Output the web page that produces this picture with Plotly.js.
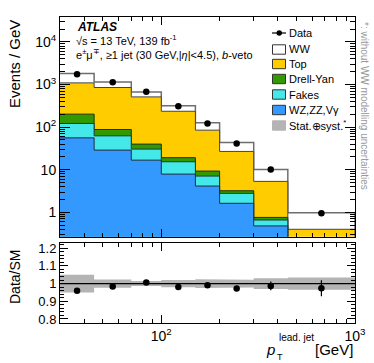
<!DOCTYPE html>
<html>
<head>
<meta charset="utf-8">
<script src="https://cdn.plot.ly/plotly-3.0.1.min.js"></script>
<style>
  html, body { margin: 0; padding: 0; background: #fff; }
  #chart { width: 374px; height: 363px; }
</style>
</head>
<body>
<div id="chart"></div>
<script>
// -------- DATA --------
const binEdges   = [30, 45, 70, 100, 150, 200, 300, 450, 1000];   // GeV
const wzZzVgamma = [56, 28.9, 16.8, 7.9, 4.14, 1.63, 0.48, 0.12]; // Events / GeV
const fakes      = [66, 33.6, 13.7, 7.5, 2.96, 1.16, 0.18, 0.06];
const drellYan   = [80, 25.5, 9.5, 3.8, 2.2, 0.42, 0.10, 0.02];
const topQuark   = [892, 765, 473, 217, 75.7, 23.7, 4.57, 0.20];
const wwSignal   = [716, 300, 160, 80, 41, 16.9, 4.87, 0.58];
const dataVals   = [1740, 1130, 675, 311, 122, 41.5, 10.1, 0.95];
const ratioVals  = [0.959, 0.983, 1.006, 0.981, 0.990, 0.972, 0.987, 0.974];
const ratioErr   = [0.004, 0.005, 0.006, 0.007, 0.010, 0.012, 0.025, 0.045];
const bandHalf   = [0.050, 0.023, 0.014, 0.020, 0.025, 0.022, 0.030, 0.035];

// -------- HELPERS --------
const nBins = binEdges.length - 1;
const centers = binEdges.slice(0, -1).map((e, i) => Math.sqrt(e * binEdges[i + 1]));

// step outline of a histogram
function steps(vals) {
  const x = [], y = [];
  for (let i = 0; i < nBins; i++) {
    x.push(binEdges[i], binEdges[i + 1]);
    y.push(vals[i], vals[i]);
  }
  return { x, y };
}

// closed polygon from histogram top down to a floor far below the axis
function histPolygon(vals, floor) {
  const s = steps(vals);
  return {
    x: s.x.concat([binEdges[nBins], binEdges[0]]),
    y: s.y.concat([floor, floor])
  };
}

// cumulative stack, bottom to top
const layers = [
  { name: 'WZ,ZZ,Vγ', vals: wzZzVgamma, color: '#3399ff', line: '#1f2a44' },
  { name: 'Fakes',    vals: fakes,      color: '#44e8e8', line: '#1f3a3a' },
  { name: 'Drell-Yan',vals: drellYan,   color: '#339900', line: '#1c3300' },
  { name: 'Top',      vals: topQuark,   color: '#ffcc00', line: '#444444' },
  { name: 'WW',       vals: wwSignal,   color: '#ffffff', line: '#6e6e6e' }
];
let running = new Array(nBins).fill(0);
layers.forEach(l => {
  running = running.map((r, i) => r + l.vals[i]);
  l.cum = running.slice();
});

// -------- TRACES --------
const traces = [];
// draw largest (top of stack) first so lower layers sit in front
layers.slice().reverse().forEach(l => {
  const p = histPolygon(l.cum, 1e-3);
  traces.push({
    x: p.x, y: p.y, xaxis: 'x', yaxis: 'y',
    type: 'scatter', mode: 'lines', fill: 'toself',
    fillcolor: l.color,
    line: { color: l.line, width: l.name === 'WW' ? 1.5 : 1 },
    hoverinfo: 'skip', showlegend: false
  });
});

// data points
traces.push({
  x: centers, y: dataVals, xaxis: 'x', yaxis: 'y',
  type: 'scatter', mode: 'markers',
  marker: { color: '#000', size: 6.5 },
  showlegend: false
});

// ratio uncertainty band
const up = steps(bandHalf.map(h => 1 + h));
const dn = steps(bandHalf.map(h => 1 - h));
traces.push({
  x: up.x.concat(dn.x.slice().reverse()),
  y: up.y.concat(dn.y.slice().reverse()),
  xaxis: 'x2', yaxis: 'y2',
  type: 'scatter', mode: 'lines', fill: 'toself',
  fillcolor: '#b4b4b4', line: { width: 0 },
  hoverinfo: 'skip', showlegend: false
});

// unity line
traces.push({
  x: [binEdges[0], binEdges[nBins]], y: [1, 1], xaxis: 'x2', yaxis: 'y2',
  type: 'scatter', mode: 'lines',
  line: { color: '#000', width: 1.2 }, showlegend: false
});

// ratio points
traces.push({
  x: centers, y: ratioVals, xaxis: 'x2', yaxis: 'y2',
  type: 'scatter', mode: 'markers',
  marker: { color: '#000', size: 6.5 },
  error_y: { type: 'data', array: ratioErr, color: '#000', thickness: 1.2, width: 0 },
  showlegend: false
});

// -------- TICKS --------
function logMinor(lo, hi) {
  const out = [];
  for (let d = lo; d <= hi; d++) {
    for (let m = 2; m <= 9; m++) out.push(m * Math.pow(10, d));
  }
  return out;
}
const xMinor = logMinor(1, 2);
const yMinor = logMinor(-1, 4);

const font = 'Liberation Sans, Arial, Helvetica, sans-serif';

const axisBase = {
  showline: true, linecolor: '#000', linewidth: 1, mirror: 'allticks',
  ticks: 'inside', tickcolor: '#000', tickwidth: 1,
  showgrid: false, zeroline: false,
  tickfont: { family: font, size: 14, color: '#000' }
};

// -------- GEOMETRY (pixels -> paper) --------
const W = 374, H = 363;
const M = { l: 60, r: 19, t: 17, b: 40 };
const fx = px => (px - M.l) / (W - M.l - M.r);
const fy = py => (H - M.b - py) / (H - M.t - M.b);

// -------- LEGEND (drawn by hand, ROOT style) --------
const legendRows = [
  { label: 'Data',      y: 33 },
  { label: 'WW',        y: 49.5, fill: '#ffffff', line: '#333' },
  { label: 'Top',       y: 64,   fill: '#ffcc00', line: '#333' },
  { label: 'Drell-Yan', y: 79,   fill: '#339900', line: '#333' },
  { label: 'Fakes',     y: 94.5, fill: '#44e8e8', line: '#333' },
  { label: 'WZ,ZZ,Vγ',  y: 110,  fill: '#3399ff', line: '#333' },
  { label: 'Stat.⊕syst.<sup>*</sup>', y: 125.5, fill: '#b4b4b4', line: '#b4b4b4' }
];
const shapes = [];
const annotations = [];
legendRows.forEach(r => {
  if (r.fill) {
    shapes.push({
      type: 'rect', xref: 'paper', yref: 'paper',
      x0: fx(272.5), x1: fx(285.5), y0: fy(r.y + 4.7), y1: fy(r.y - 4.7),
      fillcolor: r.fill, line: { color: r.line, width: 1 }
    });
  } else {
    shapes.push({
      type: 'line', xref: 'paper', yref: 'paper',
      x0: fx(272), x1: fx(286), y0: fy(r.y), y1: fy(r.y),
      line: { color: '#000', width: 1.2 }
    });
    shapes.push({
      type: 'circle', xref: 'paper', yref: 'paper',
      x0: fx(276.5), x1: fx(282), y0: fy(r.y + 2.75), y1: fy(r.y - 2.75),
      fillcolor: '#000', line: { color: '#000', width: 0 }
    });
  }
  annotations.push({
    xref: 'paper', yref: 'paper', x: fx(287), y: fy(r.y),
    xanchor: 'left', yanchor: 'middle', showarrow: false,
    text: r.label, font: { family: font, size: 11, color: '#000' }
  });
});

// -------- LABELS --------
function label(text, x, y, opts) {
  annotations.push(Object.assign({
    xref: 'paper', yref: 'paper', x: fx(x), y: fy(y),
    xanchor: 'left', yanchor: 'middle', showarrow: false,
    text: text, font: { family: font, size: 11, color: '#000' }
  }, opts || {}));
}
label('<b><i>ATLAS</i></b>', 75, 26.5, { font: { family: font, size: 12, color: '#000' } });
label('√s = 13 TeV, 139 fb<sup>-1</sup>', 75, 40, { borderpad: 0 });
label('e<sup>±</sup>μ<sup>∓</sup>, ≥1 jet (30 GeV,|<i>η</i>|&lt;4.5), <i>b</i>-veto', 75, 54, { borderpad: 0 });

// side note
label('*: without WW modelling uncertainties', 364, 106, {
  xanchor: 'center', textangle: 90,
  font: { family: font, size: 10, color: '#9a9a9a' }
});

// axis titles
label('Events / GeV', 14, 64, { xanchor: 'center', textangle: -90, font: { family: font, size: 15, color: '#000' } });
label('Data/SM', 15, 277, { xanchor: 'center', textangle: -90, font: { family: font, size: 14, color: '#000' } });
label('<i>p</i>', 276.5, 349, { xanchor: 'right', font: { family: font, size: 15, color: '#000' } });
label('T', 276, 357, { font: { family: font, size: 9, color: '#000' }, borderpad: 0 });
label('lead. jet', 277.5, 337, { font: { family: font, size: 10, color: '#000' }, borderpad: 0 });
label('[GeV]', 355, 349, { xanchor: 'right', font: { family: font, size: 15, color: '#000' } });

// -------- LAYOUT --------
const mainBottom = fy(236.7);
const ratioTop = fy(243.3);

const layout = {
  width: W, height: H,
  margin: M,
  paper_bgcolor: '#fff', plot_bgcolor: '#fff',
  font: { family: font, color: '#000' },
  showlegend: false,
  xaxis: Object.assign({}, axisBase, {
    type: 'log', range: [Math.log10(30), 3], domain: [0, 1], anchor: 'y',
    tickmode: 'array', tickvals: [100, 1000], ticklen: 8, showticklabels: false,
    minor: { tickmode: 'array', tickvals: xMinor, ticks: 'inside', ticklen: 4, tickcolor: '#000', showgrid: false }
  }),
  yaxis: Object.assign({}, axisBase, {
    type: 'log', range: [-0.572, 4.586], domain: [mainBottom, 1], anchor: 'x',
    tickmode: 'array', tickvals: [1, 10, 100, 1000, 10000],
    ticktext: ['1', '10', '10<sup>2</sup>', '10<sup>3</sup>', '10<sup>4</sup>'],
    ticklen: 10,
    minor: { tickmode: 'array', tickvals: yMinor, ticks: 'inside', ticklen: 5, tickcolor: '#000', showgrid: false }
  }),
  xaxis2: Object.assign({}, axisBase, {
    type: 'log', range: [Math.log10(30), 3], domain: [0, 1], anchor: 'y2',
    tickmode: 'array', tickvals: [100, 1000],
    ticktext: ['10<sup>2</sup>', '10<sup>3</sup>'], ticklen: 8,
    minor: { tickmode: 'array', tickvals: xMinor, ticks: 'inside', ticklen: 4, tickcolor: '#000', showgrid: false }
  }),
  yaxis2: Object.assign({}, axisBase, {
    range: [0.777, 1.228], domain: [0, ratioTop], anchor: 'x2',
    tickmode: 'array', tickvals: [0.8, 0.9, 1, 1.1, 1.2], ticklen: 8,
    tickfont: { family: font, size: 13, color: '#000' },
    minor: {
      tickmode: 'array',
      tickvals: [0.78, 0.82, 0.84, 0.86, 0.88, 0.92, 0.94, 0.96, 0.98, 1.02, 1.04, 1.06, 1.08, 1.12, 1.14, 1.16, 1.18, 1.22],
      ticks: 'inside', ticklen: 4, tickcolor: '#000', showgrid: false
    }
  }),
  shapes: shapes,
  annotations: annotations
};

Plotly.newPlot('chart', traces, layout, { displayModeBar: false, staticPlot: true });
</script>
</body>
</html>
